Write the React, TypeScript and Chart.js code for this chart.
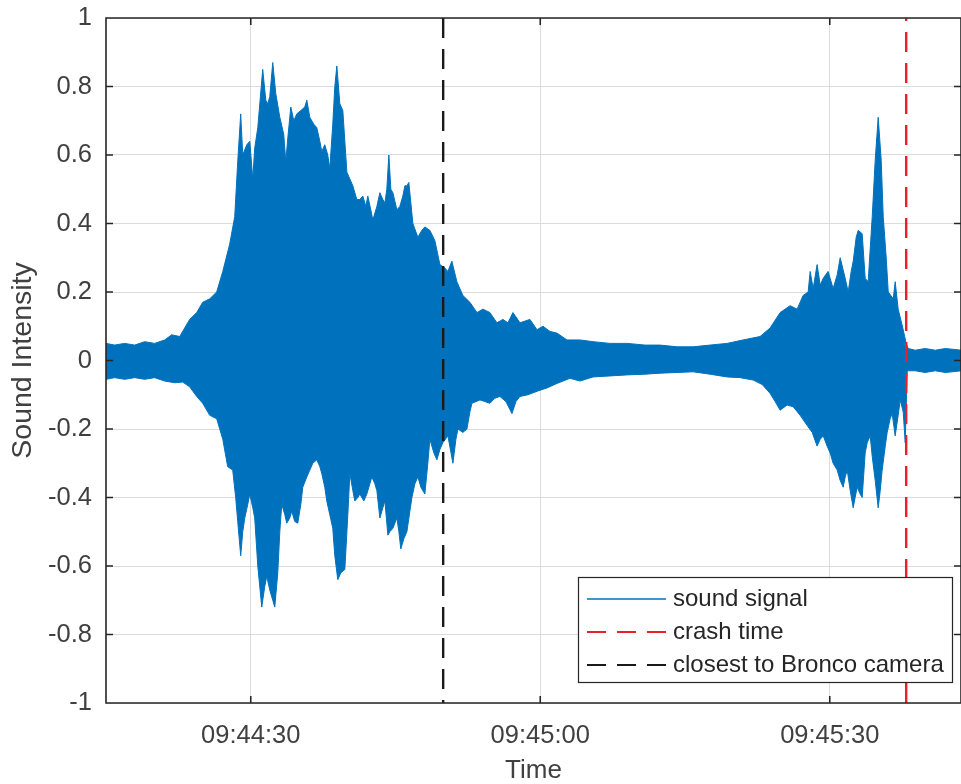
import React, { useEffect, useRef } from 'react';
import { Chart, registerables } from 'chart.js';

Chart.register(...registerables);

// Time in seconds after 09:44:00
const upperTime = [
  15.0, 15.9, 16.93, 17.97, 19.01, 20.04, 21.08, 21.81, 22.64, 23.67, 24.4, 25.02, 25.75, 26.47, 27.1,
  27.82, 28.34, 28.65, 28.96, 29.17, 29.59, 29.9, 30.21, 30.41, 30.73, 31.24, 31.56, 31.76, 31.97,
  32.28, 32.59, 33.01, 33.42, 33.63, 33.84, 34.15, 34.46, 34.77, 35.19, 35.6, 35.81, 36.12, 36.53,
  36.84, 37.16, 37.36, 37.67, 37.98, 38.19, 38.5, 38.71, 38.92, 39.23, 39.54, 39.96, 40.27, 40.58,
  40.99, 41.3, 41.61, 41.93, 42.13, 42.44, 42.65, 43.07, 43.38, 43.69, 43.9, 44.1, 44.31, 44.52,
  44.73, 45.14, 45.45, 45.76, 45.97, 46.18, 46.38, 46.59, 46.8, 47.32, 47.73, 48.04, 48.56, 49.08,
  49.6, 50.12, 50.43, 50.84, 51.36, 51.98, 52.71, 53.44, 54.06, 54.78, 55.51, 56.13, 56.65, 57.17,
  57.9, 58.93, 59.66, 60.28, 61.01, 61.73, 62.77, 64.12, 65.47, 67.23, 68.99, 70.86, 72.41, 74.18,
  75.84, 77.6, 79.36, 81.02, 82.78, 83.82, 84.86, 85.89, 86.62, 87.24, 87.76, 87.97, 88.28, 88.69,
  89.01, 89.32, 89.83, 90.35, 90.77, 91.08, 91.6, 91.91, 92.22, 92.43, 92.74, 92.95, 93.36, 93.67,
  93.98, 94.4, 94.71, 95.02, 95.33, 95.54, 95.85, 96.06, 96.58, 96.78, 97.09, 97.61, 97.92, 98.13,
  98.86, 99.89, 100.93, 101.97, 103.7,
];
const upperValue = [
  0.05, 0.045, 0.05, 0.045, 0.055, 0.05, 0.06, 0.075, 0.07, 0.12, 0.14, 0.17, 0.18, 0.2, 0.26,
  0.34, 0.42, 0.58, 0.72, 0.6, 0.63, 0.64, 0.53, 0.62, 0.68, 0.85, 0.76, 0.75, 0.77,
  0.87, 0.78, 0.71, 0.66, 0.58, 0.65, 0.74, 0.7, 0.72, 0.73, 0.74, 0.76, 0.71, 0.69,
  0.68, 0.64, 0.61, 0.63, 0.6, 0.56, 0.69, 0.8, 0.86, 0.75, 0.73, 0.55, 0.53, 0.51,
  0.47, 0.47, 0.48, 0.45, 0.48, 0.44, 0.41, 0.45, 0.49, 0.47, 0.46, 0.5, 0.6, 0.5,
  0.49, 0.44, 0.45, 0.48, 0.51, 0.51, 0.52, 0.46, 0.4, 0.36, 0.38, 0.39, 0.38, 0.35,
  0.28, 0.27, 0.26, 0.29, 0.23, 0.19, 0.17, 0.14, 0.15, 0.14, 0.11, 0.12, 0.11, 0.14,
  0.11, 0.12, 0.09, 0.1, 0.085, 0.08, 0.06, 0.06, 0.055, 0.05, 0.05, 0.045, 0.045, 0.04,
  0.04, 0.045, 0.05, 0.06, 0.07, 0.095, 0.14, 0.16, 0.15, 0.19, 0.2, 0.26, 0.21, 0.28,
  0.22, 0.24, 0.26, 0.21, 0.25, 0.3, 0.24, 0.2, 0.26, 0.29, 0.36, 0.38, 0.37, 0.24,
  0.23, 0.42, 0.585, 0.71, 0.585, 0.42, 0.3, 0.2, 0.18, 0.23, 0.15, 0.09, 0.05, 0.035,
  0.03, 0.035, 0.03, 0.035, 0.03,
];
const lowerTime = [
  15.0, 15.9, 16.93, 17.97, 19.01, 20.04, 21.08, 22.12, 22.95, 23.67, 24.4, 25.02, 25.75, 26.47,
  27.1, 27.61, 28.13, 28.44, 28.65, 28.96, 29.17, 29.38, 29.69, 29.9, 30.21, 30.41, 30.73, 31.14,
  31.45, 31.66, 31.97, 32.28, 32.49, 32.8, 33.01, 33.21, 33.53, 33.73, 34.04, 34.25, 34.56, 34.87,
  35.19, 35.39, 35.81, 36.12, 36.43, 36.84, 37.16, 37.36, 37.67, 37.88, 38.19, 38.5, 38.71, 39.02,
  39.33, 39.75, 40.06, 40.27, 40.58, 40.78, 41.1, 41.3, 41.72, 42.03, 42.34, 42.55, 42.86, 43.07,
  43.38, 43.69, 43.9, 44.21, 44.41, 44.73, 45.14, 45.35, 45.55, 45.87, 46.18, 46.49, 46.7, 47.01,
  47.32, 47.63, 48.04, 48.35, 48.56, 48.98, 49.29, 49.6, 49.91, 50.43, 50.95, 51.26, 51.47, 51.98,
  52.4, 52.71, 52.92, 53.75, 54.27, 54.78, 55.3, 55.82, 56.44, 57.07, 57.48, 57.9, 58.72, 59.66,
  60.7, 61.73, 63.08, 64.12, 65.47, 67.23, 68.99, 70.86, 72.41, 74.18, 75.84, 77.6, 79.36, 80.71,
  82.06, 82.99, 83.82, 84.34, 84.86, 85.58, 86.21, 86.93, 87.66, 88.18, 88.69, 89.01, 89.32, 89.73,
  90.04, 90.35, 90.77, 91.08, 91.39, 91.6, 91.81, 92.12, 92.43, 92.63, 92.84, 93.15, 93.36, 93.67,
  93.88, 94.19, 94.4, 94.71, 95.02, 95.23, 95.43, 95.75, 95.95, 96.26, 96.47, 96.78, 97.09, 97.3,
  97.61, 97.82, 98.03, 98.86, 99.89, 100.93, 101.97, 103.7,
];
const lowerValue = [
  -0.055, -0.05, -0.055, -0.05, -0.055, -0.05, -0.06, -0.065, -0.063, -0.077, -0.105, -0.125, -0.16, -0.17,
  -0.23, -0.31, -0.32, -0.4, -0.47, -0.57, -0.5, -0.46, -0.42, -0.39, -0.43, -0.46, -0.6, -0.72,
  -0.66, -0.63, -0.67, -0.7, -0.72, -0.62, -0.5, -0.42, -0.45, -0.475, -0.46, -0.44, -0.47, -0.475,
  -0.42, -0.37, -0.34, -0.32, -0.3, -0.29, -0.31, -0.33, -0.37, -0.41, -0.45, -0.49, -0.57, -0.64,
  -0.62, -0.61, -0.45, -0.33, -0.38, -0.41, -0.4, -0.39, -0.41, -0.39, -0.36, -0.34, -0.36, -0.38,
  -0.46, -0.43, -0.41, -0.51, -0.5, -0.49, -0.46, -0.5, -0.55, -0.52, -0.5, -0.44, -0.4, -0.36,
  -0.34, -0.37, -0.39, -0.3, -0.23, -0.27, -0.29, -0.26, -0.24, -0.22, -0.3, -0.23, -0.2, -0.21,
  -0.2, -0.15, -0.125, -0.115, -0.12, -0.125, -0.11, -0.105, -0.12, -0.155, -0.12, -0.105, -0.1, -0.09,
  -0.08, -0.067, -0.052, -0.06, -0.048, -0.045, -0.042, -0.04, -0.037, -0.035, -0.033, -0.04, -0.048, -0.05,
  -0.057, -0.07, -0.096, -0.12, -0.145, -0.13, -0.135, -0.16, -0.19, -0.21, -0.25, -0.23, -0.22, -0.25,
  -0.27, -0.3, -0.32, -0.35, -0.37, -0.34, -0.32, -0.38, -0.43, -0.4, -0.37, -0.39, -0.4, -0.27,
  -0.24, -0.22, -0.28, -0.35, -0.43, -0.38, -0.32, -0.25, -0.21, -0.17, -0.155, -0.22, -0.16, -0.115,
  -0.15, -0.24, -0.03, -0.03, -0.035, -0.03, -0.035, -0.03,
];

const crashTime = 97.92;
const closestTime = 49.94;
const xMin = 15.0;
const xMax = 103.6;
const xTickValues = [30, 60, 90];
const xTickLabels = ['09:44:30', '09:45:00', '09:45:30'];
const yTickValues = [-1, -0.8, -0.6, -0.4, -0.2, 0, 0.2, 0.4, 0.6, 0.8, 1];
const yTickLabels = ['-1', '-0.8', '-0.6', '-0.4', '-0.2', '0', '0.2', '0.4', '0.6', '0.8', '1'];
const legendLabels = ['sound signal', 'crash time', 'closest to Bronco camera'];

const BLUE = '#0072BD';
const RED = '#E8202A';
const BLACK = '#1a1a1a';
const FONT = 'Arial, "Liberation Sans", Helvetica, sans-serif';

const boxPlugin = {
  id: 'matlabBox',
  afterDatasetsDraw(chart: any) {
    const { ctx, chartArea, scales } = chart;
    const { left, right, top, bottom } = chartArea;
    ctx.save();
    ctx.strokeStyle = '#262626';
    ctx.lineWidth = 1.6;
    ctx.beginPath();
    ctx.moveTo(left, top);
    ctx.lineTo(right, top);
    ctx.lineTo(right, bottom);
    ctx.lineTo(left, bottom);
    ctx.closePath();
    const tl = 7;
    xTickValues.forEach((v) => {
      const px = scales.x.getPixelForValue(v);
      ctx.moveTo(px, bottom);
      ctx.lineTo(px, bottom - tl);
      ctx.moveTo(px, top);
      ctx.lineTo(px, top + tl);
    });
    yTickValues.forEach((v) => {
      const py = scales.y.getPixelForValue(v);
      ctx.moveTo(left, py);
      ctx.lineTo(left + tl, py);
      ctx.moveTo(right, py);
      ctx.lineTo(right - tl, py);
    });
    ctx.stroke();
    ctx.restore();
  },
  afterDraw(chart: any) {
    const { ctx, chartArea } = chart;
    const bx = chartArea.right - 383;
    const by = chartArea.bottom - 126;
    const bw = 374;
    const bh = 105;
    ctx.save();
    ctx.fillStyle = '#ffffff';
    ctx.fillRect(bx, by, bw, bh);
    ctx.strokeStyle = '#262626';
    ctx.lineWidth = 1.2;
    ctx.strokeRect(bx + 0.5, by + 0.5, bw, bh);
    const styles = [
      { color: BLUE, dash: [] as number[], width: 1.6 },
      { color: RED, dash: [19, 11], width: 2 },
      { color: BLACK, dash: [19, 11], width: 2 },
    ];
    ctx.font = `24px ${FONT}`;
    ctx.textBaseline = 'middle';
    ctx.textAlign = 'left';
    legendLabels.forEach((label, i) => {
      const cy = by + 22 + i * 33;
      const s = styles[i];
      ctx.beginPath();
      ctx.setLineDash(s.dash);
      ctx.strokeStyle = s.color;
      ctx.lineWidth = s.width;
      ctx.moveTo(bx + 9, cy);
      ctx.lineTo(bx + 88, cy);
      ctx.stroke();
      ctx.setLineDash([]);
      ctx.fillStyle = '#262626';
      ctx.fillText(label, bx + 95, cy);
    });
    ctx.restore();
  },
};

export default function App() {
  const ref = useRef<HTMLCanvasElement | null>(null);
  useEffect(() => {
    if (!ref.current) return;
    const upper = upperTime.map((t, i) => ({ x: t, y: upperValue[i] }));
    const lower = lowerTime.map((t, i) => ({ x: t, y: lowerValue[i] }));
    const chart = new Chart(ref.current, {
      type: 'line',
      data: {
        datasets: [
          {
            label: 'crash time',
            data: [{ x: crashTime, y: -1 }, { x: crashTime, y: 1 }],
            borderColor: RED,
            borderWidth: 2.4,
            borderDash: [20, 11],
            pointRadius: 0,
            fill: false,
            order: 0,
          },
          {
            label: 'closest to Bronco camera',
            data: [{ x: closestTime, y: 1 }, { x: closestTime, y: -1 }],
            borderColor: BLACK,
            borderWidth: 2.4,
            borderDash: [20, 11],
            pointRadius: 0,
            fill: false,
            order: 1,
          },
          {
            label: 'sound signal',
            data: upper,
            borderColor: BLUE,
            backgroundColor: BLUE,
            borderWidth: 1,
            pointRadius: 0,
            fill: { value: -0.02 },
            tension: 0,
            order: 2,
          },
          {
            label: 'sound signal lower',
            data: lower,
            borderColor: BLUE,
            backgroundColor: BLUE,
            borderWidth: 1,
            pointRadius: 0,
            fill: 'origin',
            tension: 0,
            order: 3,
          },
        ],
      },
      options: {
        animation: false,
        responsive: false,
        events: [],
        layout: { padding: { top: 18, right: 0, bottom: 0, left: 0 } },
        plugins: { legend: { display: false }, tooltip: { enabled: false } },
        scales: {
          x: {
            type: 'linear',
            min: xMin,
            max: xMax,
            afterBuildTicks: (s: any) => {
              s.ticks = xTickValues.map((v) => ({ value: v }));
            },
            afterFit: (s: any) => {
              s.height = 81;
              s.paddingLeft = 0;
              s.paddingRight = 0;
            },
            grid: { color: '#dcdcdc', lineWidth: 1, drawTicks: false },
            border: { display: false },
            ticks: {
              padding: 18,
              color: '#404040',
              font: { family: FONT, size: 25.5, lineHeight: 1.2 },
              maxRotation: 0,
              autoSkip: false,
              callback: (v: any) => xTickLabels[xTickValues.indexOf(Number(v))] ?? '',
            },
            title: {
              display: true,
              text: 'Time',
              color: '#404040',
              font: { family: FONT, size: 26, lineHeight: 1 },
              padding: { top: 0, bottom: 0 },
            },
          },
          y: {
            type: 'linear',
            min: -1,
            max: 1,
            afterBuildTicks: (s: any) => {
              s.ticks = yTickValues.map((v) => ({ value: v }));
            },
            afterFit: (s: any) => {
              s.width = 106;
              s.paddingTop = 0;
              s.paddingBottom = 0;
            },
            grid: { color: '#dcdcdc', lineWidth: 1, drawTicks: false },
            border: { display: false },
            ticks: {
              padding: 14,
              color: '#404040',
              font: { family: FONT, size: 25.5, lineHeight: 1.2 },
              autoSkip: false,
              callback: (v: any) => yTickLabels[yTickValues.findIndex((t) => Math.abs(t - Number(v)) < 1e-9)] ?? '',
            },
            title: {
              display: true,
              text: 'Sound Intensity',
              color: '#404040',
              font: { family: FONT, size: 28.5, lineHeight: 1 },
              padding: { top: 9, bottom: 0 },
            },
          },
        },
      },
      plugins: [boxPlugin],
    });
    return () => chart.destroy();
  }, []);
  return (
    <div style={{ position: 'absolute', left: 0, top: 0, width: 961, height: 784, background: '#fff' }}>
      <canvas ref={ref} width={961} height={784} style={{ display: 'block' }} />
    </div>
  );
}
